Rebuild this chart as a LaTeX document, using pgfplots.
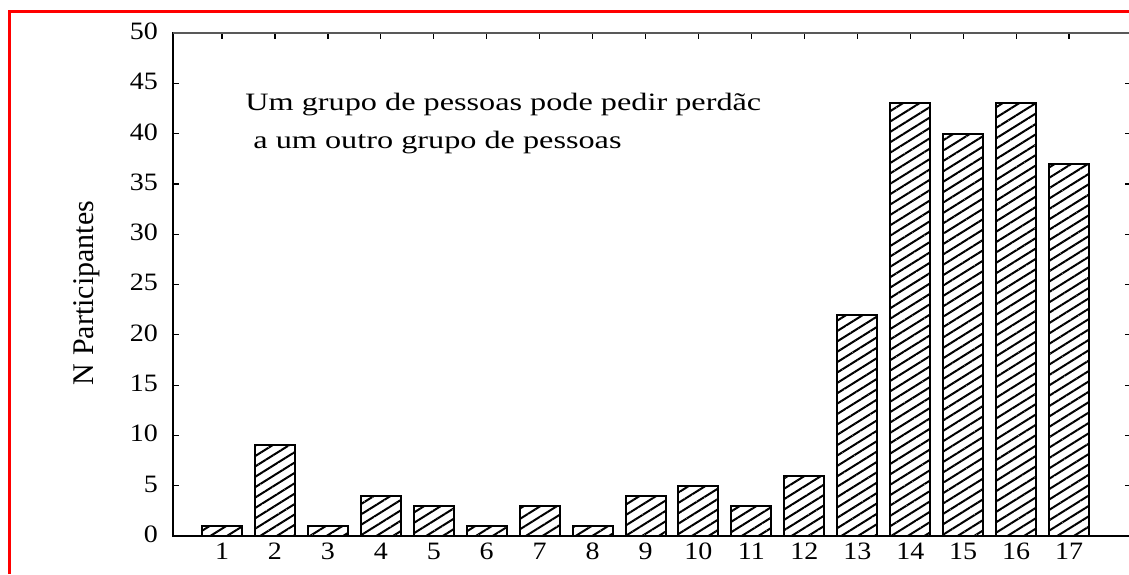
\documentclass[border=0pt]{standalone}
\usepackage{fontspec}
\setmainfont{Liberation Serif}
\newfontfamily\widefont[FakeStretch=1.29]{Liberation Serif}
\newfontfamily\tickfont[FakeStretch=1.12]{Liberation Serif}
\usepackage{pgfplots}
\pgfplotsset{compat=1.18}
\usetikzlibrary{patterns.meta}
\begin{document}
\begin{tikzpicture}[x=1pt,y=1pt]
\path[use as bounding box] (0,0) rectangle (564.5,287);
\clip (0,0) rectangle (564.5,287);
\fill[white] (0,0) rectangle (564.5,287);
\begin{axis}[
  at={(86.5pt,19pt)}, anchor=south west,
  scale only axis, width=479pt, height=251.5pt,
  xmin=0.074, xmax=18.17, ymin=0, ymax=50,
  xtick={1,...,17}, ytick={0,5,...,50},
  xtick pos=upper, xticklabel pos=lower,
  ytick pos=both, yticklabel pos=left,
  tick align=inside, major tick length=3pt,
  tick style={black, line width=0.6pt},
  axis line style={black, line width=0.8pt},
  ticklabel style={font=\tickfont\fontsize{12.5}{14}\selectfont, text height=1.4ex, text depth=0pt},
  /pgf/number format/assume math mode=true,
  xticklabel style={yshift=-2pt},
  yticklabel style={xshift=-4pt},
  ylabel={N Participantes},
  ylabel style={font=\fontsize{15}{16}\selectfont, at={(axis description cs:-0.09,0.483)}, anchor=center, rotate=0},
  clip=false,
]
\addplot[ybar, bar width=20pt, draw=black, line width=1pt,
  pattern={Lines[angle=32,distance=4.4pt,line width=1pt]}]
coordinates {(1,1) (2,9) (3,1) (4,4) (5,3) (6,1) (7,3) (8,1) (9,4) (10,5) (11,3) (12,6) (13,22) (14,43) (15,40) (16,43) (17,37)};
\end{axis}
\draw[black!65, line width=0.8pt] (86.5,270.5) -- (564.5,270.5);
\node[anchor=north west, align=left, inner sep=0pt, font=\widefont\fontsize{12.5}{19}\selectfont] at (122.5,240.5) {Um grupo de pessoas pode pedir perdãc\\ \ a um outro grupo de pessoas};
\draw[red, line width=1.6pt] (4.75,0) -- (4.75,281.25) -- (570,281.25);
\end{tikzpicture}
\end{document}
